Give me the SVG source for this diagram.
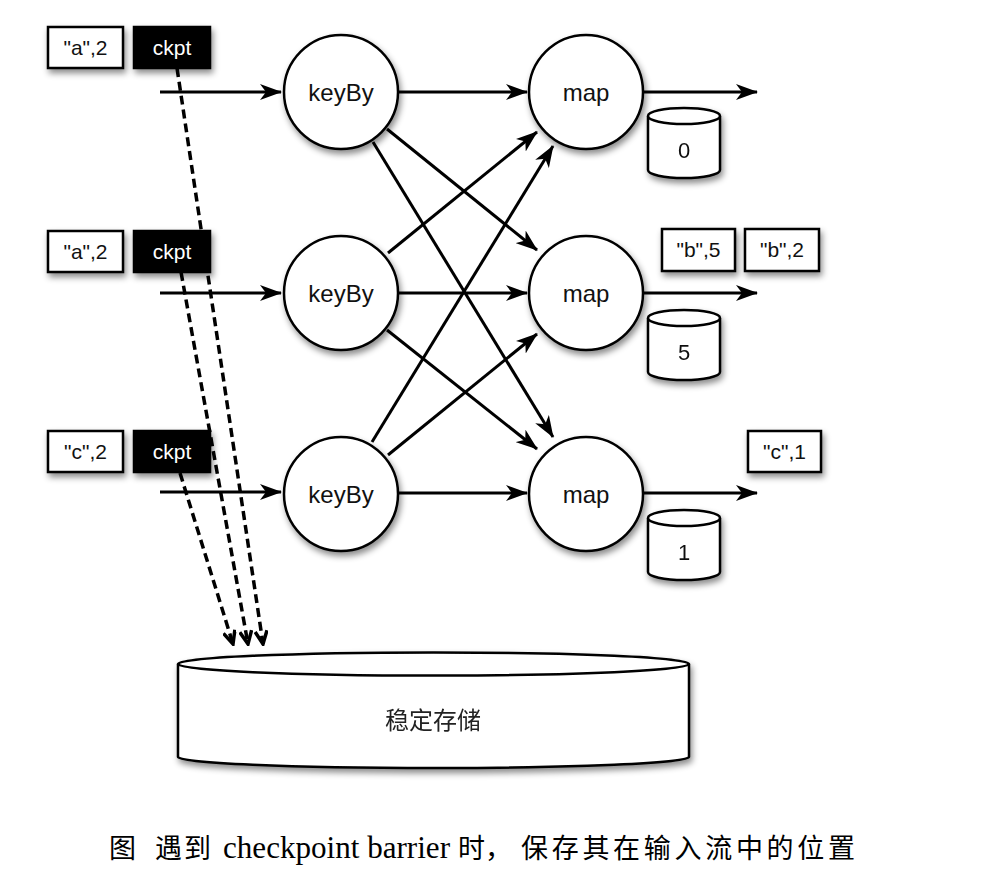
<svg xmlns="http://www.w3.org/2000/svg" width="998" height="888" viewBox="0 0 998 888">
<style>
.box{fill:#fff;stroke:#000;stroke-width:2.5;filter:url(#sh)}
.ck{fill:#000;stroke:#000;stroke-width:2.5;filter:url(#sh)}
.lbl{font-family:"Liberation Sans",Arial,sans-serif;font-size:21px;text-anchor:middle;fill:#111}
.wl{font-family:"Liberation Sans",Arial,sans-serif;font-size:21px;text-anchor:middle;fill:#fff}
.node{fill:#fff;stroke:#000;stroke-width:2.5;filter:url(#sh)}
.nt{font-family:"Liberation Sans",Arial,sans-serif;font-size:24px;text-anchor:middle;fill:#111}
.edge{stroke:#000;stroke-width:3;fill:none;marker-end:url(#ah)}
.dash{stroke:#000;stroke-width:3.5;fill:none;stroke-dasharray:9 5;marker-end:url(#dh)}
.cyl{fill:#fff;stroke:#000;stroke-width:2.5}
.cn{font-family:"Liberation Sans",Arial,sans-serif;font-size:22px;text-anchor:middle;fill:#111}
.cap{font-family:"Liberation Serif","Noto Sans CJK SC",serif;fill:#000}
</style>
<defs>
<filter id="sh" x="-20%" y="-20%" width="150%" height="160%">
<feDropShadow dx="2" dy="4" stdDeviation="3" flood-color="#000" flood-opacity="0.45"/>
</filter>
<marker id="ah" markerUnits="userSpaceOnUse" viewBox="0 0 22 16" refX="21" refY="8" markerWidth="22" markerHeight="16" orient="auto">
<path d="M0,0 L22,8 L0,16 L6,8 z" fill="#000"/>
</marker>
<marker id="dh" markerUnits="userSpaceOnUse" viewBox="0 0 16 14" refX="14" refY="7" markerWidth="16" markerHeight="14" orient="auto">
<path d="M1,1 L14,7 L1,13" fill="none" stroke="#000" stroke-width="3.5"/>
</marker>
</defs>
<rect width="998" height="888" fill="#fff"/>

<g id="connectors">
<path class="dash" d="M177,68 L263,644"/>
<path class="dash" d="M181,272 L248,644"/>
<path class="dash" d="M180,473 L233,644"/>
<path class="edge" d="M160,92 L281,92"/>
<path class="edge" d="M160,293 L281,293"/>
<path class="edge" d="M160,492 L281,492"/>
<path class="edge" d="M399,92 L527,92"/>
<path class="edge" d="M399,293 L527,293"/>
<path class="edge" d="M399,493 L527,493"/>
<path class="edge" d="M387,129 L537,250"/>
<path class="edge" d="M373,142 L553,437"/>
<path class="edge" d="M388,253 L537,132"/>
<path class="edge" d="M387,330 L537,449"/>
<path class="edge" d="M372,442 L553,146"/>
<path class="edge" d="M388,455 L537,334"/>
<path class="edge" d="M644,92 L757,92"/>
<path class="edge" d="M644,293 L757,293"/>
<path class="edge" d="M644,493 L757,493"/>
</g>

<g id="in-a2-1"><rect class="box" x="48" y="27" width="75" height="41"/><text class="lbl" x="85.5" y="55">"a",2</text></g>
<g id="ckpt-1"><rect class="ck" x="134" y="27" width="76" height="41"/><text class="wl" x="172" y="55">ckpt</text></g>
<g id="in-a2-2"><rect class="box" x="48" y="231" width="75" height="41"/><text class="lbl" x="85.5" y="259">"a",2</text></g>
<g id="ckpt-2"><rect class="ck" x="134" y="231" width="76" height="41"/><text class="wl" x="172" y="259">ckpt</text></g>
<g id="in-c2"><rect class="box" x="48" y="431" width="75" height="41"/><text class="lbl" x="85.5" y="459">"c",2</text></g>
<g id="ckpt-3"><rect class="ck" x="134" y="431" width="76" height="41"/><text class="wl" x="172" y="459">ckpt</text></g>

<g id="keyBy-1"><circle class="node" cx="341" cy="92" r="57"/><text class="nt" x="341" y="101">keyBy</text></g>
<g id="keyBy-2"><circle class="node" cx="341" cy="293" r="57"/><text class="nt" x="341" y="302">keyBy</text></g>
<g id="keyBy-3"><circle class="node" cx="341" cy="494" r="57"/><text class="nt" x="341" y="503">keyBy</text></g>
<g id="map-1"><circle class="node" cx="586" cy="92" r="57"/><text class="nt" x="586" y="101">map</text></g>
<g id="map-2"><circle class="node" cx="586" cy="293" r="57"/><text class="nt" x="586" y="302">map</text></g>
<g id="map-3"><circle class="node" cx="586" cy="494" r="57"/><text class="nt" x="586" y="503">map</text></g>

<g id="state-0" filter="url(#sh)"><path class="cyl" d="M648,116 L648,170 A36,8 0 0 0 720,170 L720,116"/><ellipse class="cyl" cx="684" cy="116" rx="36" ry="8"/><text class="cn" x="684" y="158">0</text></g>
<g id="state-5" filter="url(#sh)"><path class="cyl" d="M648,318 L648,372 A36,8 0 0 0 720,372 L720,318"/><ellipse class="cyl" cx="684" cy="318" rx="36" ry="8"/><text class="cn" x="684" y="360">5</text></g>
<g id="state-1" filter="url(#sh)"><path class="cyl" d="M648,518 L648,572 A36,8 0 0 0 720,572 L720,518"/><ellipse class="cyl" cx="684" cy="518" rx="36" ry="8"/><text class="cn" x="684" y="560">1</text></g>

<g id="out-b5"><rect class="box" x="662" y="229" width="73" height="42"/><text class="lbl" x="698.5" y="257">"b",5</text></g>
<g id="out-b2"><rect class="box" x="745" y="229" width="74" height="42"/><text class="lbl" x="782" y="257">"b",2</text></g>
<g id="out-c1"><rect class="box" x="748" y="431" width="73" height="41"/><text class="lbl" x="784.5" y="459">"c",1</text></g>

<g id="storage" filter="url(#sh)"><path class="cyl" d="M178,664 L178,757 A255.5,11 0 0 0 689,757 L689,664"/><ellipse class="cyl" cx="433.5" cy="664" rx="255.5" ry="11.5"/><text x="433" y="729" text-anchor="middle" font-family="Noto Sans CJK SC,sans-serif" font-size="24" fill="#222">稳定存储</text></g>

<g id="caption" class="cap">
<text x="109" y="858" font-size="27" font-family="Noto Sans CJK SC,sans-serif">图</text>
<text x="155" y="858" font-size="27" font-family="Noto Sans CJK SC,sans-serif" textLength="56">遇到</text>
<text x="223" y="858" font-size="31" textLength="227" lengthAdjust="spacingAndGlyphs">checkpoint barrier</text>
<text x="458" y="858" font-size="27" font-family="Noto Sans CJK SC,sans-serif">时，</text>
<text x="521" y="858" font-size="27" font-family="Noto Sans CJK SC,sans-serif" textLength="334">保存其在输入流中的位置</text>
</g>
</svg>
